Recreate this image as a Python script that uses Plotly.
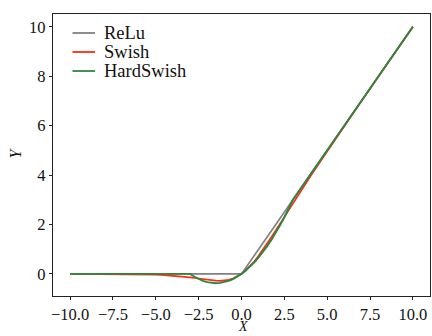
import plotly.graph_objects as go

# ReLU
relu_x = [-10, 0, 10]
relu_y = [0, 0, 10]

# Swish
swish_x = [-10, -9, -8, -7, -6, -5, -4.5, -4, -3.5, -3, -2.75, -2.5, -2.25, -2, -1.75, -1.5,
           -1.25, -1, -0.75, -0.5, -0.25, 0, 0.25, 0.5, 0.75, 1, 1.25, 1.5, 1.75, 2, 2.25,
           2.5, 2.75, 3, 3.5, 4, 4.5, 5, 6, 7, 8, 10]
swish_y = [-0.0005, -0.0011, -0.0027, -0.0064, -0.0148, -0.0335, -0.0495, -0.0719, -0.1027,
           -0.1423, -0.1650, -0.1896, -0.2144, -0.2384, -0.2598, -0.2742, -0.2784, -0.2689,
           -0.2406, -0.1888, -0.1095, 0.0, 0.1405, 0.3112, 0.5094, 0.7311, 0.9720, 1.2264,
           1.4905, 1.7616, 2.0370, 2.3104, 2.5864, 2.8577, 3.3974, 3.9281, 4.4506, 4.9665,
           5.9852, 6.9936, 7.9973, 9.9995]

# HardSwish
hswish_x = [-10, -3, -2.75, -2.5, -2.25, -2, -1.75, -1.5, -1.25, -1, -0.75, -0.5, -0.25, 0,
            0.25, 0.5, 0.75, 1, 1.25, 1.5, 1.75, 2, 2.25, 2.5, 2.75, 3, 10]
hswish_y = [0, 0, -0.1146, -0.2083, -0.2813, -0.3333, -0.3646, -0.375, -0.3646, -0.3333,
            -0.2813, -0.2083, -0.1146, 0, 0.1354, 0.2917, 0.4688, 0.6667, 0.8854, 1.125,
            1.3854, 1.6667, 1.9688, 2.2917, 2.6354, 3, 10]

series_names = ["ReLu", "Swish", "HardSwish"]
series_colors = ["#808080", "#ff2a10", "#2e8540"]

x_ticks = [-10.0, -7.5, -5.0, -2.5, 0.0, 2.5, 5.0, 7.5, 10.0]
x_tick_text = ["\u221210.0", "\u22127.5", "\u22125.0", "\u22122.5", "0.0", "2.5", "5.0", "7.5", "10.0"]
y_ticks = [0, 2, 4, 6, 8, 10]

FONT = "Liberation Serif, Times New Roman, serif"

fig = go.Figure()
fig.add_trace(go.Scatter(x=relu_x, y=relu_y, mode="lines", name=series_names[0],
                         line=dict(color=series_colors[0], width=1.7)))
fig.add_trace(go.Scatter(x=swish_x, y=swish_y, mode="lines", name=series_names[1],
                         line=dict(color=series_colors[1], width=1.7)))
fig.add_trace(go.Scatter(x=hswish_x, y=hswish_y, mode="lines", name=series_names[2],
                         line=dict(color=series_colors[2], width=1.9)))

axis_common = dict(showline=True, mirror=True, linecolor="#222", linewidth=1.2,
                   ticks="outside", ticklen=3, tickcolor="#222", tickwidth=1,
                   showgrid=False, zeroline=False,
                   tickfont=dict(family=FONT, size=16.5, color="#111"))

# plot area: 53..430 px horizontally, 14..296 px vertically
PL, PR, PT, PB = 53, 430, 14, 296
def px(xp):
    return (xp - PL) / (PR - PL)
def py(yp):
    return (PB - yp) / (PB - PT)

# manual legend (matplotlib-like compact layout)
legend_rows_px = [33, 52, 71]
shapes = []
annotations = []
for name, color, yr in zip(series_names, series_colors, legend_rows_px):
    yy = py(yr)
    shapes.append(dict(type="line", xref="paper", yref="paper", x0=px(72.5), x1=px(95),
                       y0=yy, y1=yy, line=dict(color=color, width=1.8)))
    annotations.append(dict(text=name, xref="paper", yref="paper", x=px(101.5), y=yy,
                            xanchor="left", yanchor="middle", showarrow=False,
                            font=dict(family=FONT, size=18.5, color="#111")))

annotations.append(dict(text="<i>X</i>", xref="paper", yref="paper", x=px(243), y=py(336),
                        xanchor="center", yanchor="bottom", showarrow=False,
                        font=dict(family=FONT, size=14, color="#111")))
annotations.append(dict(text="<i>Y</i>", xref="paper", yref="paper", x=px(14.5), y=py(153),
                        xanchor="center", yanchor="middle", showarrow=False, textangle=-90,
                        font=dict(family=FONT, size=16, color="#111")))

fig.update_layout(
    width=432, height=336,
    margin=dict(l=PL, r=432 - PR, t=PT, b=336 - PB),
    paper_bgcolor="white", plot_bgcolor="white",
    font=dict(family=FONT, color="#111"),
    showlegend=False,
    shapes=shapes,
    annotations=annotations,
    xaxis=dict(range=[-11, 11], tickvals=x_ticks, ticktext=x_tick_text, **axis_common),
    yaxis=dict(range=[-0.894, 10.519], tickvals=y_ticks, **axis_common),
)

fig.write_html("out.html")
